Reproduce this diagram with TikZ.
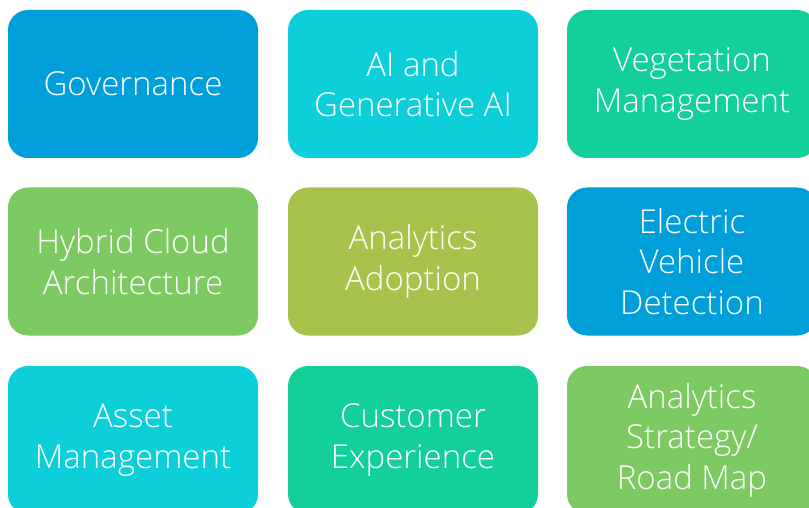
\documentclass[tikz,border=0pt]{standalone}
\usepackage{fontspec}
\setmainfont{Open Sans Light}
\definecolor{cblue}{HTML}{009FD9}
\definecolor{ccyan}{HTML}{0DCFDA}
\definecolor{cteal}{HTML}{13CF9A}
\definecolor{cgreen}{HTML}{7DCA62}
\definecolor{colive}{HTML}{A8C34B}
\tikzset{tile/.style={rounded corners=20pt, minimum width=250pt, minimum height=148pt, inner sep=0pt, align=center, text=white, font=\fontsize{33}{40.5}\selectfont}}
\begin{document}
\begin{tikzpicture}[x=1pt,y=-1pt]
\useasboundingbox (0,0) rectangle (809,508);
\clip (0,0) rectangle (809,508);
\fill[white] (0,0) rectangle (809,508);
\node[tile, fill=cblue] (gov) at (133,84) {Governance};
\node[tile, fill=ccyan] (ai) at (413,84) {AI and\\Generative AI};
\node[tile, fill=cteal] (veg) at (692,84) {Vegetation\\Management};
\node[tile, fill=cgreen] (cloud) at (133,261.5) {Hybrid Cloud\\Architecture};
\node[tile, fill=colive] (adopt) at (413,261.5) {Analytics\\Adoption};
\node[tile, fill=cblue] (ev) at (692,261.5) {Electric\\Vehicle\\Detection};
\node[tile, fill=ccyan] (asset) at (133,440) {Asset\\Management};
\node[tile, fill=cteal] (cx) at (413,440) {Customer\\Experience};
\node[tile, fill=cgreen] (strat) at (692,440) {Analytics\\Strategy/\\Road Map};
\end{tikzpicture}
\end{document}
